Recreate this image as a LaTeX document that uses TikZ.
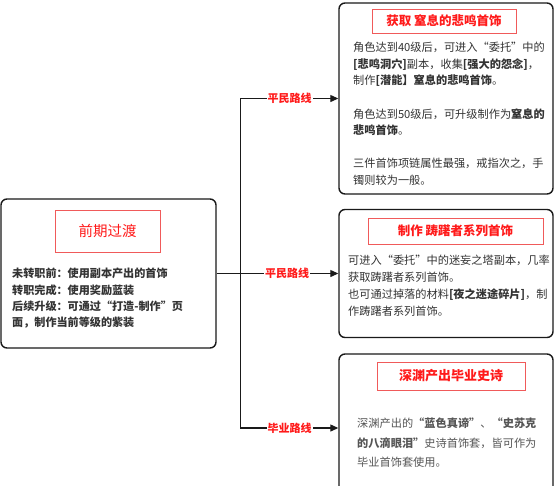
\documentclass[tikz,border=0pt]{standalone}
\usepackage{fontspec}
\setmainfont{Noto Sans CJK SC}
\usetikzlibrary{arrows.meta}
\definecolor{bordr}{HTML}{1A1A1A}
\definecolor{tred}{HTML}{FF1A1A}
\definecolor{tboxred}{HTML}{F05A5A}
\definecolor{bodyc}{HTML}{333333}
\definecolor{bodyd}{HTML}{555555}
\begin{document}
\begin{tikzpicture}[x=1pt,y=-1pt,
 card/.style={draw=bordr, line width=1.4pt, rounded corners=6pt, fill=white, inner sep=0pt},
 ttl/.style={draw=tboxred, line width=0.9pt, text=tred, font=\bfseries\fontsize{12.5}{14}\selectfont, inner sep=0pt},
 txt/.style={anchor=north west, align=left, inner sep=0pt, text=bodyc, font=\fontsize{11.2}{16.6}\selectfont},
 lbl/.style={fill=white, text=tred, font=\bfseries\fontsize{11}{12}\selectfont, inner sep=1pt},
 link/.style={draw=bordr, line width=1.2pt, -{Triangle[length=8pt,width=7pt]}}
]
\clip (0,0) rectangle (554,485);
\fill[white] (0,0) rectangle (554,485);

% cards
\node[card, minimum width=215pt, minimum height=149pt] (left) at (108.5,273.5) {};
\node[card, minimum width=214pt, minimum height=191pt] (top) at (446,98.5) {};
\node[card, minimum width=214pt, minimum height=128pt] (mid) at (446,273.5) {};
\node[card, minimum width=214pt, minimum height=148pt] (bot) at (446,428) {};

% titles
\node[ttl, minimum width=105pt, minimum height=42pt, font=\fontsize{14.5}{16}\selectfont] (lt) at (107.5,231) {前期过渡};
\node[ttl, minimum width=144pt, minimum height=24pt] (tt) at (444,21) {获取 窒息的悲鸣首饰};
\node[ttl, minimum width=175pt, minimum height=26pt] (mt) at (455.5,231) {制作 踌躇者系列首饰};
\node[ttl, minimum width=148pt, minimum height=28pt, font=\bfseries\fontsize{13}{15}\selectfont] (bt) at (451,376) {深渊产出毕业史诗};

% texts
\node[txt, font=\bfseries\fontsize{11.1}{16.3}\selectfont] (ltx) at (12,268) {未转职前：使用副本产出的首饰\\转职完成：使用奖励蓝装\\后续升级：可通过“打造-制作”页\\面，制作当前等级的紫装};

\node[txt] (ttx) at (353,42) {角色达到40级后，可进入“委托”中的\\\textbf{[悲鸣洞穴]}副本，收集\textbf{[强大的怨念]}，\\制作\textbf{[潜能】窒息的悲鸣首饰}。\\[16.6pt]角色达到50级后，可升级制作为\textbf{窒息的}\\\textbf{悲鸣首饰}。\\[16.6pt]三件首饰项链属性最强，戒指次之，手\\镯则较为一般。};

\node[txt, font=\fontsize{11.2}{17}\selectfont] (mtx) at (348,255) {可进入“委托”中的迷妄之塔副本，几率\\获取踌躇者系列首饰。\\也可通过掉落的材料\textbf{[夜之迷途碎片]}，制\\作踌躇者系列首饰。};

\node[txt, text=bodyd, font=\fontsize{11.2}{19.5}\selectfont] (btx) at (357,418) {深渊产出的\textbf{“蓝色真谛”}、\textbf{“史苏克}\\\textbf{的八滴眼泪”}史诗首饰套，皆可作为\\毕业首饰套使用。};

% connectors
\coordinate (j) at ([xshift=24pt]left.east);
\draw[link] (left.east) -- node[lbl, pos=0.58] {平民路线} (mid.west);
\draw[link] (j) |- node[lbl, pos=0.75] {平民路线} (top.west);
\draw[link] (j) |- node[lbl, pos=0.75] {毕业路线} (bot.west);
\end{tikzpicture}
\end{document}
